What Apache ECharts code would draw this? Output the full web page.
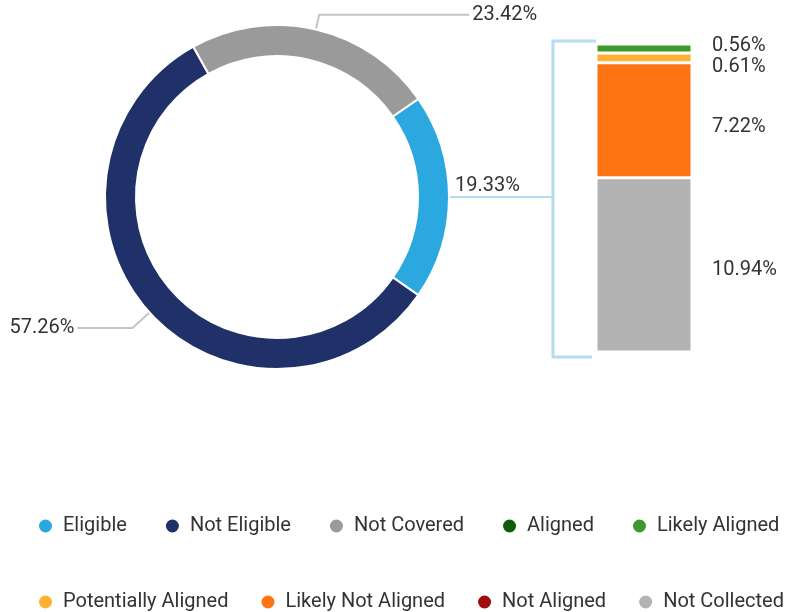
<!DOCTYPE html>
<html>
<head>
<meta charset="utf-8">
<script src="https://cdn.jsdelivr.net/npm/echarts@6/dist/echarts.min.js"></script>
<style>
html,body{margin:0;padding:0;background:#fff;}
#main{width:795px;height:612px;}
</style>
</head>
<body>
<div id="main"></div>
<script>
// donut: coverage split
var pieNames = ['Eligible', 'Not Eligible', 'Not Covered'];
var pieValues = [19.33, 57.26, 23.42];
var pieColors = ['#2ba8df', '#1f3168', '#9a9a9a'];

// stacked bar: breakdown of eligible, bottom to top
var barNames = ['Not Collected', 'Likely Not Aligned', 'Not Aligned', 'Potentially Aligned', 'Aligned', 'Likely Aligned'];
var barValues = [10.94, 7.22, 0, 0.61, 0, 0.56];
var barColors = ['#b3b3b3', '#fe7314', '#a30c0c', '#ffb231', '#0a5e0a', '#3c9a2c'];

// legend rows
var legendRow1 = ['Eligible', 'Not Eligible', 'Not Covered', 'Aligned', 'Likely Aligned'];
var legendRow2 = ['Potentially Aligned', 'Likely Not Aligned', 'Not Aligned', 'Not Collected'];

var font = 'Roboto, "Noto Sans", sans-serif';
var bracketColor = '#b5dcef';
var barTotal = 0;
for (var i = 0; i < barValues.length; i++) barTotal += barValues[i];

// bar grid box, the bracket follows it
var gridLeft = 596, gridWidth = 96, gridTop = 44, gridBottom = 260, chartH = 612;
var bracketX = gridLeft - 43, bracketTop = gridTop - 3, bracketBottom = chartH - gridBottom + 5;

var pieLine = [
	{length: 4, length2: 100, lineStyle: {color: bracketColor}},
	{length: 23, length2: 55},
	{length: 15, length2: 150}
];
var pieData = [];
for (var i = 0; i < pieNames.length; i++) {
	pieData.push({
		name: pieNames[i],
		value: pieValues[i],
		itemStyle: {color: pieColors[i]},
		labelLine: pieLine[i]
	});
}

var labelOffsets = {'Likely Aligned': [0, -2], 'Potentially Aligned': [0, 9], 'Likely Not Aligned': [0, 7], 'Not Collected': [0, 5]};
var barSeries = [];
for (var i = 0; i < barNames.length; i++) {
	barSeries.push({
		name: barNames[i],
		type: 'bar',
		stack: 'eligible',
		barWidth: '100%',
		data: [barValues[i]],
		itemStyle: {color: barColors[i], borderColor: '#fff', borderWidth: 1.5},
		label: {
			show: barValues[i] > 0,
			position: 'right',
			distance: 20,
			offset: labelOffsets[barNames[i]] || [0, 0],
			formatter: function (p) { return p.value.toFixed(2) + '%'; },
			fontFamily: font,
			fontSize: 20,
			color: '#333'
		},
		emphasis: {disabled: true}
	});
}

var legendText = {fontFamily: font, fontSize: 20, color: '#333', padding: [0, 0, 0, 5]};
var chart = echarts.init(document.getElementById('main'));
var option = {
	animation: false,
	color: pieColors.concat(barColors),
	grid: {left: gridLeft, width: gridWidth, top: gridTop, bottom: gridBottom},
	xAxis: {type: 'category', data: ['Eligible'], show: false},
	yAxis: {type: 'value', min: 0, max: barTotal, show: false},
	legend: [{
		data: legendRow1,
		left: 37, top: 516, width: 758, padding: 0,
		icon: 'circle', itemWidth: 15, itemHeight: 15, itemGap: 37,
		textStyle: legendText
	}, {
		data: legendRow2,
		left: 37, top: 592, width: 758, padding: 0,
		icon: 'circle', itemWidth: 15, itemHeight: 15, itemGap: 31,
		textStyle: legendText
	}],
	graphic: [{
		type: 'polyline',
		shape: {points: [[gridLeft, bracketTop], [bracketX, bracketTop], [bracketX, bracketBottom], [gridLeft - 4, bracketBottom]]},
		style: {stroke: bracketColor, lineWidth: 3, fill: null},
		silent: true
	}],
	series: [{
		type: 'pie',
		center: [277, 197],
		radius: [141, 172],
		startAngle: 34.8,
		avoidLabelOverlap: false,
		data: pieData,
		itemStyle: {borderColor: '#fff', borderWidth: 2},
		label: {
			formatter: function (p) { return p.value.toFixed(2) + '%'; },
			fontFamily: font,
			fontSize: 20,
			color: '#333',
			distanceToLabelLine: 3
		},
		labelLine: {lineStyle: {color: '#c4c4c4', width: 2}},
		labelLayout: function (p) {
			if (p.dataIndex === 0) return {align: 'right', dx: -36, dy: -11};
		},
		emphasis: {disabled: true}
	}].concat(barSeries)
};
chart.setOption(option);
</script>
</body>
</html>
